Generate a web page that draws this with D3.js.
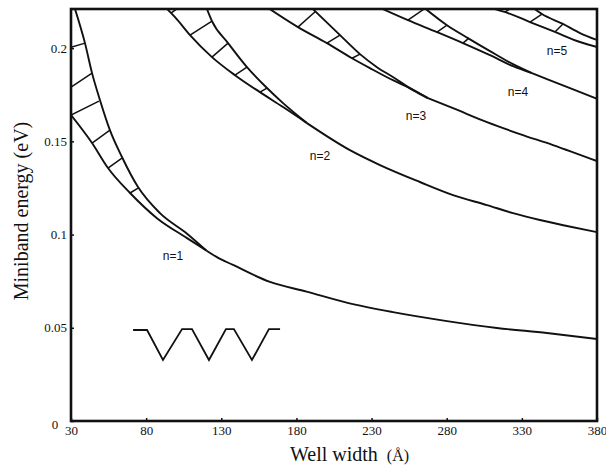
<!DOCTYPE html>
<html lang="en">
<head>
  <meta charset="UTF-8">
  <title>Miniband energy vs well width</title>
  <script src="https://d3js.org/d3.v7.min.js"></script>
  <style>
    body { margin: 0; background: #fff; }
    .edge { fill: none; stroke: #111; stroke-width: 1.9px; stroke-linejoin: round; }
    .hatch { stroke: #111; stroke-width: 1.5px; }
    .band-label { font-family: "Liberation Sans", Arial, sans-serif; font-size: 12px; fill: #111; }
  </style>
</head>
<body>
  <svg id="chart" width="606" height="465"></svg>
  <script>
    // Axis ticks
    const xTicks = [30, 80, 130, 180, 230, 280, 330, 380];
    const yTicks = [0, 0.05, 0.1, 0.15, 0.2];
    const yTickLabels = ["0", "0.05", "0.1", "0.15", "0.2"];

    // Miniband edges, [well width (Å), energy (eV)]
    const n1Lower = [[30, 0.1641], [44.0, 0.1491], [54.6, 0.1357], [69.3, 0.1223], [87.2, 0.1088], [107.2, 0.0981], [120, 0.0915]];
    const n1Upper = [[32.7, 0.2209], [39.3, 0.2027], [44.0, 0.1866], [49.3, 0.1721], [55.9, 0.1560], [63.9, 0.1416], [74.6, 0.1255], [89.2, 0.1115], [107.2, 0.1005], [120, 0.0915]];
    const n1Tail = [[120, 0.0915], [127.1, 0.0879], [137.8, 0.0837], [162.4, 0.0746], [186.8, 0.0694], [213.4, 0.0635], [244.2, 0.0584], [280.2, 0.0536], [313.4, 0.0499], [346.7, 0.0472], [380, 0.0440]];

    const n2Lower = [[94.0, 0.2209], [99.2, 0.2166], [109.2, 0.2070], [123.8, 0.1952], [139.1, 0.1855], [155.7, 0.1764], [171.1, 0.1684], [187, 0.1598]];
    const n2Upper = [[120.5, 0.2209], [123.8, 0.2145], [134.5, 0.2027], [147.1, 0.1898], [160.4, 0.1786], [171.1, 0.1705], [187, 0.1598]];
    const n2Tail = [[187, 0.1598], [215.6, 0.1453], [235.6, 0.1373], [262.2, 0.1282], [284.2, 0.1212], [306.8, 0.1158], [324.1, 0.1115], [342.0, 0.1078], [360.0, 0.1046], [380, 0.1013]];

    const n3Lower = [[162.4, 0.2209], [181.0, 0.2113], [200.3, 0.2027], [217.0, 0.1946], [228.9, 0.1893], [244.2, 0.1828], [255.5, 0.1786], [267.5, 0.1732]];
    const n3Upper = [[191.0, 0.2209], [209.0, 0.2070], [222.3, 0.1968], [233.6, 0.1898], [244.2, 0.1845], [257.5, 0.1775], [267.5, 0.1732]];
    const n3Tail = [[267.5, 0.1732], [284.2, 0.1678], [306.8, 0.1603], [328.7, 0.1539], [350.7, 0.1480], [380, 0.1394]];

    const n4Lower = [[237.6, 0.2209], [254.2, 0.2150], [273.5, 0.2086], [290.8, 0.2027], [308.8, 0.1962], [324.1, 0.1903], [336.7, 0.1866]];
    const n4Upper = [[266.2, 0.2209], [280.2, 0.2123], [294.1, 0.2054], [308.8, 0.1984], [324.1, 0.1914], [336.7, 0.1866]];
    const n4Tail = [[336.7, 0.1866], [346.7, 0.1834], [363.3, 0.1781], [380, 0.1728]];

    const n5Lower = [[312.1, 0.2209], [320.8, 0.2188], [335.4, 0.2140], [352.0, 0.2087], [368.7, 0.2033], [380, 0.2006]];
    const n5Upper = [[338.7, 0.2209], [343.4, 0.2183], [357.3, 0.2130], [368.7, 0.2081], [380, 0.2044]];
    const n5Tail = [];

    // Hatch strokes across each band: [lower end, upper end]
    const n1Hatch = [[[30, 0.2005], [39.3, 0.2027]], [[30, 0.1791], [44.0, 0.1866]], [[30, 0.1641], [48.6, 0.1716]],
                     [[44.0, 0.1491], [55.9, 0.1560]], [[54.6, 0.1357], [63.9, 0.1410]], [[69.3, 0.1223], [74.6, 0.1249]]];
    const n2Hatch = [[[96.5, 0.2188], [103.0, 0.2225]], [[109.2, 0.2070], [123.8, 0.2145]], [[123.8, 0.1952], [134.5, 0.2027]],
                     [[139.1, 0.1855], [147.1, 0.1898]], [[155.7, 0.1764], [160.4, 0.1786]]];
    const n3Hatch = [[[181.0, 0.2113], [193.0, 0.2199]], [[200.3, 0.2027], [209.0, 0.2070]], [[217.0, 0.1946], [222.3, 0.1968]]];
    const n4Hatch = [[[254.2, 0.2150], [264.8, 0.2209]], [[273.5, 0.2086], [280.2, 0.2123]], [[290.8, 0.2027], [294.8, 0.2054]]];
    const n5Hatch = [[[318.7, 0.2193], [324.7, 0.2225]], [[335.4, 0.2140], [343.4, 0.2183]], [[352.0, 0.2087], [357.3, 0.2130]]];

    // Band labels
    const bandNames = ["n=1", "n=2", "n=3", "n=4", "n=5"];
    const labelW = [97.9, 195.7, 259.5, 327.4, 353.4];
    const labelE = [0.0885, 0.1421, 0.1636, 0.1765, 0.1985];

    // Inset: triangular well profile
    const wellW = [71.3, 80.6, 91.2, 103.9, 110.5, 121.8, 133.1, 138.4, 150.4, 161.7, 169.1];
    const wellE = [0.0488, 0.0488, 0.0327, 0.0493, 0.0493, 0.0327, 0.0493, 0.0493, 0.0327, 0.0493, 0.0493];

    const bands = [
      { lower: n1Lower, upper: n1Upper, tail: n1Tail, hatch: n1Hatch },
      { lower: n2Lower, upper: n2Upper, tail: n2Tail, hatch: n2Hatch },
      { lower: n3Lower, upper: n3Upper, tail: n3Tail, hatch: n3Hatch },
      { lower: n4Lower, upper: n4Upper, tail: n4Tail, hatch: n4Hatch },
      { lower: n5Lower, upper: n5Upper, tail: n5Tail, hatch: n5Hatch }
    ];

    const svg = d3.select("#chart");
    const m = { left: 71, right: 597, top: 9, bottom: 421 };

    const x = d3.scaleLinear().domain([30, 380]).range([m.left, m.right]);
    const y = d3.scaleLinear().domain([0, 0.221]).range([m.bottom, m.top]);

    svg.append("rect").attr("width", 606).attr("height", 465).attr("fill", "#fff");

    svg.append("clipPath").attr("id", "plot-clip")
      .append("rect")
        .attr("x", m.left).attr("y", m.top)
        .attr("width", m.right - m.left).attr("height", m.bottom - m.top);

    const plot = svg.append("g").attr("clip-path", "url(#plot-clip)");

    const line = d3.line()
        .x(d => x(d[0]))
        .y(d => y(d[1]))
        .curve(d3.curveMonotoneX);

    bands.forEach(b => {
      plot.append("path").attr("class", "edge").attr("d", line(b.lower));
      plot.append("path").attr("class", "edge").attr("d", line(b.upper));
      if (b.tail.length) plot.append("path").attr("class", "edge").attr("d", line(b.tail));
      plot.selectAll(null)
        .data(b.hatch)
        .join("line")
          .attr("class", "hatch")
          .attr("x1", d => x(d[0][0])).attr("y1", d => y(d[0][1]))
          .attr("x2", d => x(d[1][0])).attr("y2", d => y(d[1][1]));
    });

    // Inset well profile
    plot.append("path")
        .attr("fill", "none")
        .attr("stroke", "#111")
        .attr("stroke-width", 1.8)
        .attr("d", d3.line().x(d => x(d[0])).y(d => y(d[1]))(wellW.map((w, i) => [w, wellE[i]])));

    // Band labels
    svg.append("g").selectAll("text")
      .data(bandNames)
      .join("text")
        .attr("class", "band-label")
        .attr("x", (d, i) => x(labelW[i]))
        .attr("y", (d, i) => y(labelE[i]))
        .attr("dy", "0.35em")
        .attr("text-anchor", "middle")
        .text(d => d);

    // Axes
    const xAxisG = svg.append("g")
        .attr("transform", `translate(0,${m.bottom})`)
        .call(d3.axisBottom(x).tickValues(xTicks).tickFormat(d3.format("d"))
          .tickSizeInner(-3).tickSizeOuter(0).tickPadding(5));
    const yAxisG = svg.append("g")
        .attr("transform", `translate(${m.left},0)`)
        .call(d3.axisLeft(y).tickValues(yTicks).tickFormat((d, i) => yTickLabels[i])
          .tickSizeInner(-3).tickSizeOuter(0).tickPadding(4));

    [xAxisG, yAxisG].forEach(g => {
      g.select(".domain").remove();
      g.attr("font-family", "'Liberation Serif', 'Times New Roman', serif").attr("font-size", 13);
      g.selectAll("line").attr("stroke", "#111").attr("stroke-width", 1.5);
      g.selectAll("text").attr("fill", "#111");
    });
    // the "0" of the energy axis sits below-left of the corner
    yAxisG.selectAll(".tick").filter(d => d === 0).select("text")
        .attr("text-anchor", "middle").attr("x", -16).attr("dy", "0.58em");

    // Frame
    svg.append("rect")
        .attr("x", m.left).attr("y", m.top)
        .attr("width", m.right - m.left).attr("height", m.bottom - m.top)
        .attr("fill", "none").attr("stroke", "#111").attr("stroke-width", 2.6);

    // Axis titles
    svg.append("text")
        .attr("transform", "translate(28,211) rotate(-90)")
        .attr("text-anchor", "middle")
        .attr("font-family", "'Liberation Serif', 'Times New Roman', serif")
        .attr("font-size", 20)
        .attr("fill", "#111")
        .text("Miniband energy (eV)");

    const xt = svg.append("text")
        .attr("x", 290).attr("y", 461)
        .attr("font-family", "'Liberation Serif', 'Times New Roman', serif")
        .attr("font-size", 20)
        .attr("fill", "#111");
    xt.append("tspan").text("Well width");
    xt.append("tspan").attr("dx", 9).attr("font-size", 16).text("(Å)");
  </script>
</body>
</html>
